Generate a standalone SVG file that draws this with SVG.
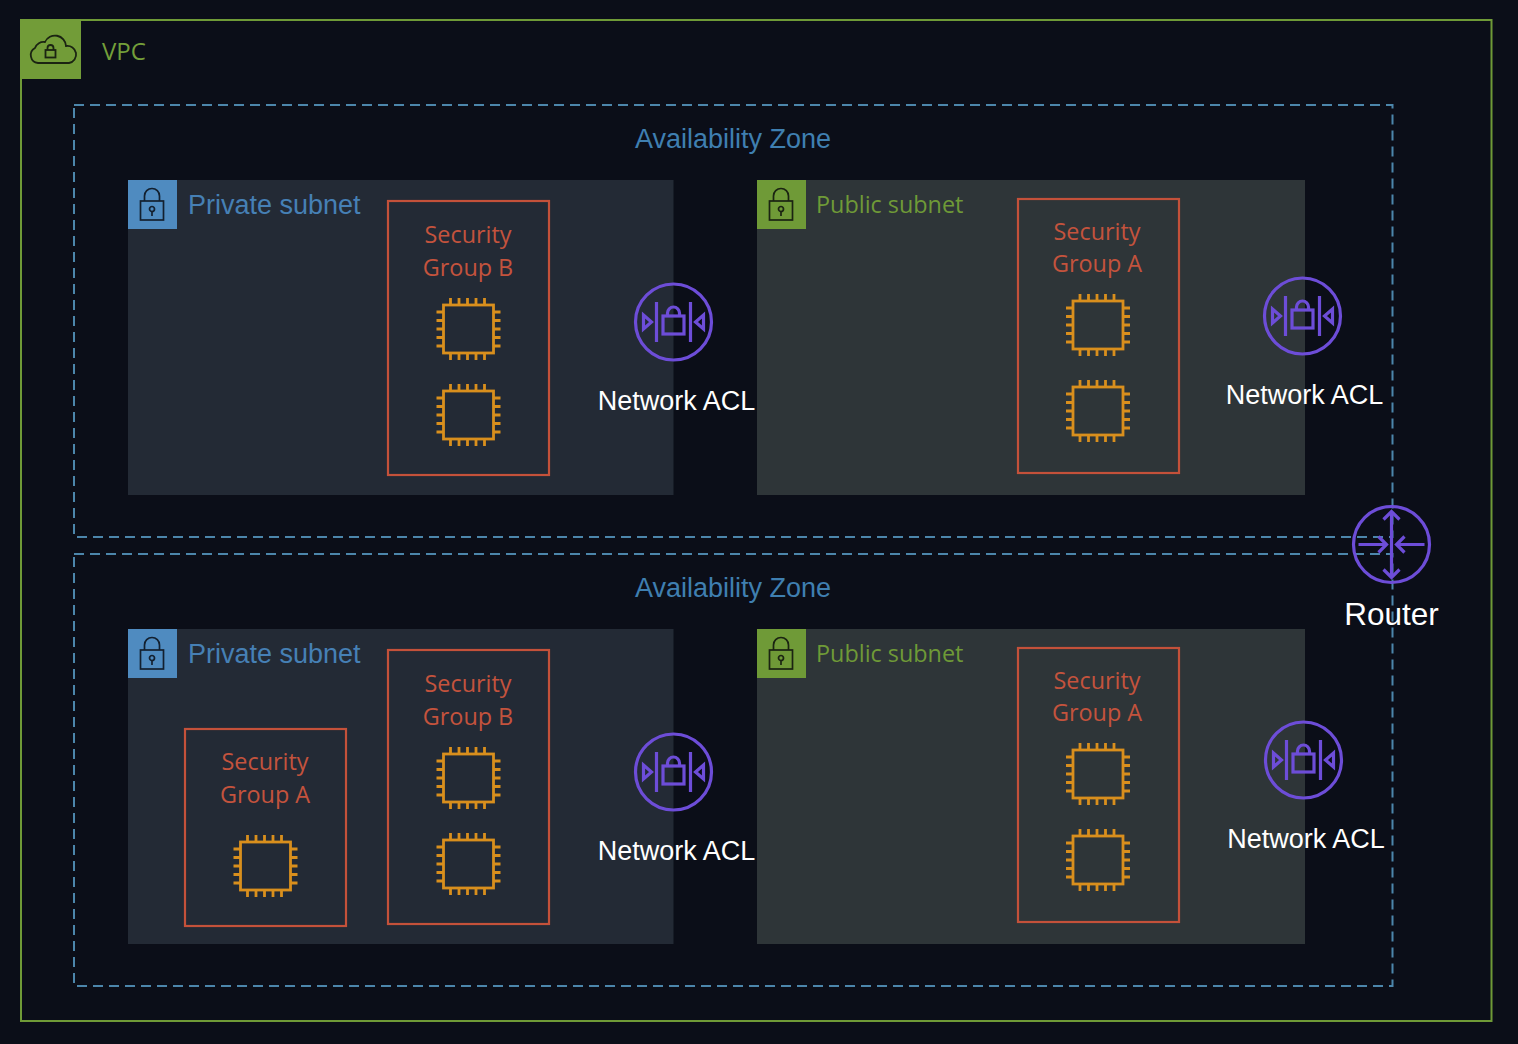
<svg xmlns="http://www.w3.org/2000/svg" width="1518" height="1044" viewBox="0 0 1518 1044">
<style>
.az{fill:none;stroke:#4c86ab;stroke-width:2;stroke-dasharray:10 6}
.priv{fill:#232a35}.pub{fill:#2e3538}
.sg{fill:none;stroke:#c4513a;stroke-width:2.2}
.sgt{font:23.400px "Open Sans","Noto Sans",sans-serif;fill:#c4533d;text-anchor:middle}
.azt{font:27px "Liberation Sans",Arial,sans-serif;fill:#3f7fb0;text-anchor:middle}
.privt{font:27px "Liberation Sans",Arial,sans-serif;fill:#4680b5}
.pubt{font:23.400px "Open Sans","Noto Sans",sans-serif;fill:#6f9a37}
.w{font:27px "Liberation Sans",Arial,sans-serif;fill:#fff;text-anchor:middle}
.chip{fill:none;stroke:#d98f1d;stroke-width:2.800}
.pur{fill:none;stroke:#6d4dd8;stroke-width:3.200}
</style>
<defs>
<g id="chip" class="chip">
<rect x="-25" y="-24" width="50" height="48"/>
<path d="M-18-24v-7M-9.500-24v-7M-1-24v-7M7.500-24v-7M16-24v-7M-18 24v7M-9.500 24v7M-1 24v7M7.500 24v7M16 24v7M-25-17h-7M-25-8.500h-7M-25 0h-7M-25 8.500h-7M-25 17h-7M25-17h7M25-8.500h7M25 0h7M25 8.500h7M25 17h7"/>
</g>
<g id="acl" class="pur">
<circle r="38"/>
<path d="M-17-20V20M17-20V20M-30-7V7L-22 0ZM30-7V7L22 0Z"/>
<rect x="-10.500" y="-6" width="21" height="18"/>
<path d="M-6-6V-9A6 6 0 0 1 6-9V-6"/>
</g>
<g id="lock" fill="none" stroke-width="1.700">
<rect x="-12" y="-3" width="23" height="19"/>
<path d="M-8-3V-8A7.500 7.500 0 0 1 7-8V-3"/>
<circle cx="-.5" cy="5" r="2.500"/>
<path d="M-.5 7.500V12"/>
</g>
</defs>
<rect width="1518" height="1044" fill="#0b0e18"/>
<g id="vpc">
<rect x="21" y="20" width="1470.500" height="1001" fill="none" stroke="#6f9a37" stroke-width="2"/>
<rect x="20" y="19" width="61" height="60" fill="#729c38"/>
<path d="M38 63a8 8 0 0 1-3-15a9 9 0 0 1 10-6a11 11 0 0 1 21 4a8.500 8.500 0 0 1 3 17Z" fill="none" stroke="#1b2412" stroke-width="1.800"/>
<rect x="45.500" y="50" width="10" height="7.500" fill="none" stroke="#1b2412" stroke-width="1.800"/>
<path d="M47.500 50v-2a3 3 0 0 1 6 0v2" fill="none" stroke="#1b2412" stroke-width="1.800"/>
<text x="102" y="60" font-family="Open Sans, Noto Sans, sans-serif" font-size="24" fill="#749f3a">VPC</text>
</g>
<g id="az1"><rect class="az" x="74" y="105" width="1318.500" height="432"/><text class="azt" x="733" y="147.500">Availability Zone</text></g>
<g id="az2"><rect class="az" x="74" y="554" width="1318.500" height="432"/><text class="azt" x="733" y="596.500">Availability Zone</text></g>

<g id="private-subnet-1">
<rect class="priv" x="128" y="180" width="545.500" height="315"/>
<rect x="128" y="180" width="49" height="49" fill="#4f8bc0"/>
<use href="#lock" x="152.500" y="204" stroke="#13202f"/>
<text class="privt" x="188" y="214">Private subnet</text>
</g>
<g id="public-subnet-1">
<rect class="pub" x="757" y="180" width="548" height="315"/>
<rect x="757" y="180" width="49" height="49" fill="#6f9a37"/>
<use href="#lock" x="781.500" y="204" stroke="#1b2412"/>
<text class="pubt" x="816" y="212.500">Public subnet</text>
</g>
<g id="private-subnet-2">
<rect class="priv" x="128" y="629" width="545.500" height="315"/>
<rect x="128" y="629" width="49" height="49" fill="#4f8bc0"/>
<use href="#lock" x="152.500" y="653" stroke="#13202f"/>
<text class="privt" x="188" y="663">Private subnet</text>
</g>
<g id="public-subnet-2">
<rect class="pub" x="757" y="629" width="548" height="315"/>
<rect x="757" y="629" width="49" height="49" fill="#6f9a37"/>
<use href="#lock" x="781.500" y="653" stroke="#1b2412"/>
<text class="pubt" x="816" y="661.500">Public subnet</text>
</g>

<g id="sg-b-1"><rect class="sg" x="388" y="201" width="161" height="274"/>
<text class="sgt" x="468" y="243">Security</text><text class="sgt" x="468" y="276">Group B</text>
<use href="#chip" x="468.500" y="329"/><use href="#chip" x="468.500" y="415"/></g>
<g id="sg-a-1"><rect class="sg" x="1018" y="199" width="161" height="274"/>
<text class="sgt" x="1097" y="240">Security</text><text class="sgt" x="1097" y="272">Group A</text>
<use href="#chip" x="1098" y="325"/><use href="#chip" x="1098" y="411"/></g>
<g id="sg-b-2"><rect class="sg" x="388" y="650" width="161" height="274"/>
<text class="sgt" x="468" y="692">Security</text><text class="sgt" x="468" y="725">Group B</text>
<use href="#chip" x="468.500" y="778"/><use href="#chip" x="468.500" y="864"/></g>
<g id="sg-a-2"><rect class="sg" x="1018" y="648" width="161" height="274"/>
<text class="sgt" x="1097" y="689">Security</text><text class="sgt" x="1097" y="721">Group A</text>
<use href="#chip" x="1098" y="774"/><use href="#chip" x="1098" y="860"/></g>
<g id="sg-a-3"><rect class="sg" x="185" y="729" width="161" height="197"/>
<text class="sgt" x="265" y="770">Security</text><text class="sgt" x="265" y="803">Group A</text>
<use href="#chip" x="265.500" y="866"/></g>

<g id="acl-1"><use href="#acl" x="673.500" y="322"/><text class="w" x="676.500" y="410">Network ACL</text></g>
<g id="acl-2"><use href="#acl" x="1302.500" y="316"/><text class="w" x="1304.500" y="404">Network ACL</text></g>
<g id="acl-3"><use href="#acl" x="673.500" y="772"/><text class="w" x="676.500" y="860">Network ACL</text></g>
<g id="acl-4"><use href="#acl" x="1303.500" y="760"/><text class="w" x="1306" y="848">Network ACL</text></g>

<g id="router">
<g class="pur" transform="translate(1391.500 544.500)">
<circle r="38"/>
<path d="M0-33V33M-8-25L0-33L8-25M-8 25L0 33L8 25M-33 0H-6M-13-8L-5 0L-13 8M33 0H6M13-8L5 0L13 8"/>
</g>
<text class="w" x="1391.500" y="625" style="font-size:31.500px">Router</text>
</g>
</svg>
